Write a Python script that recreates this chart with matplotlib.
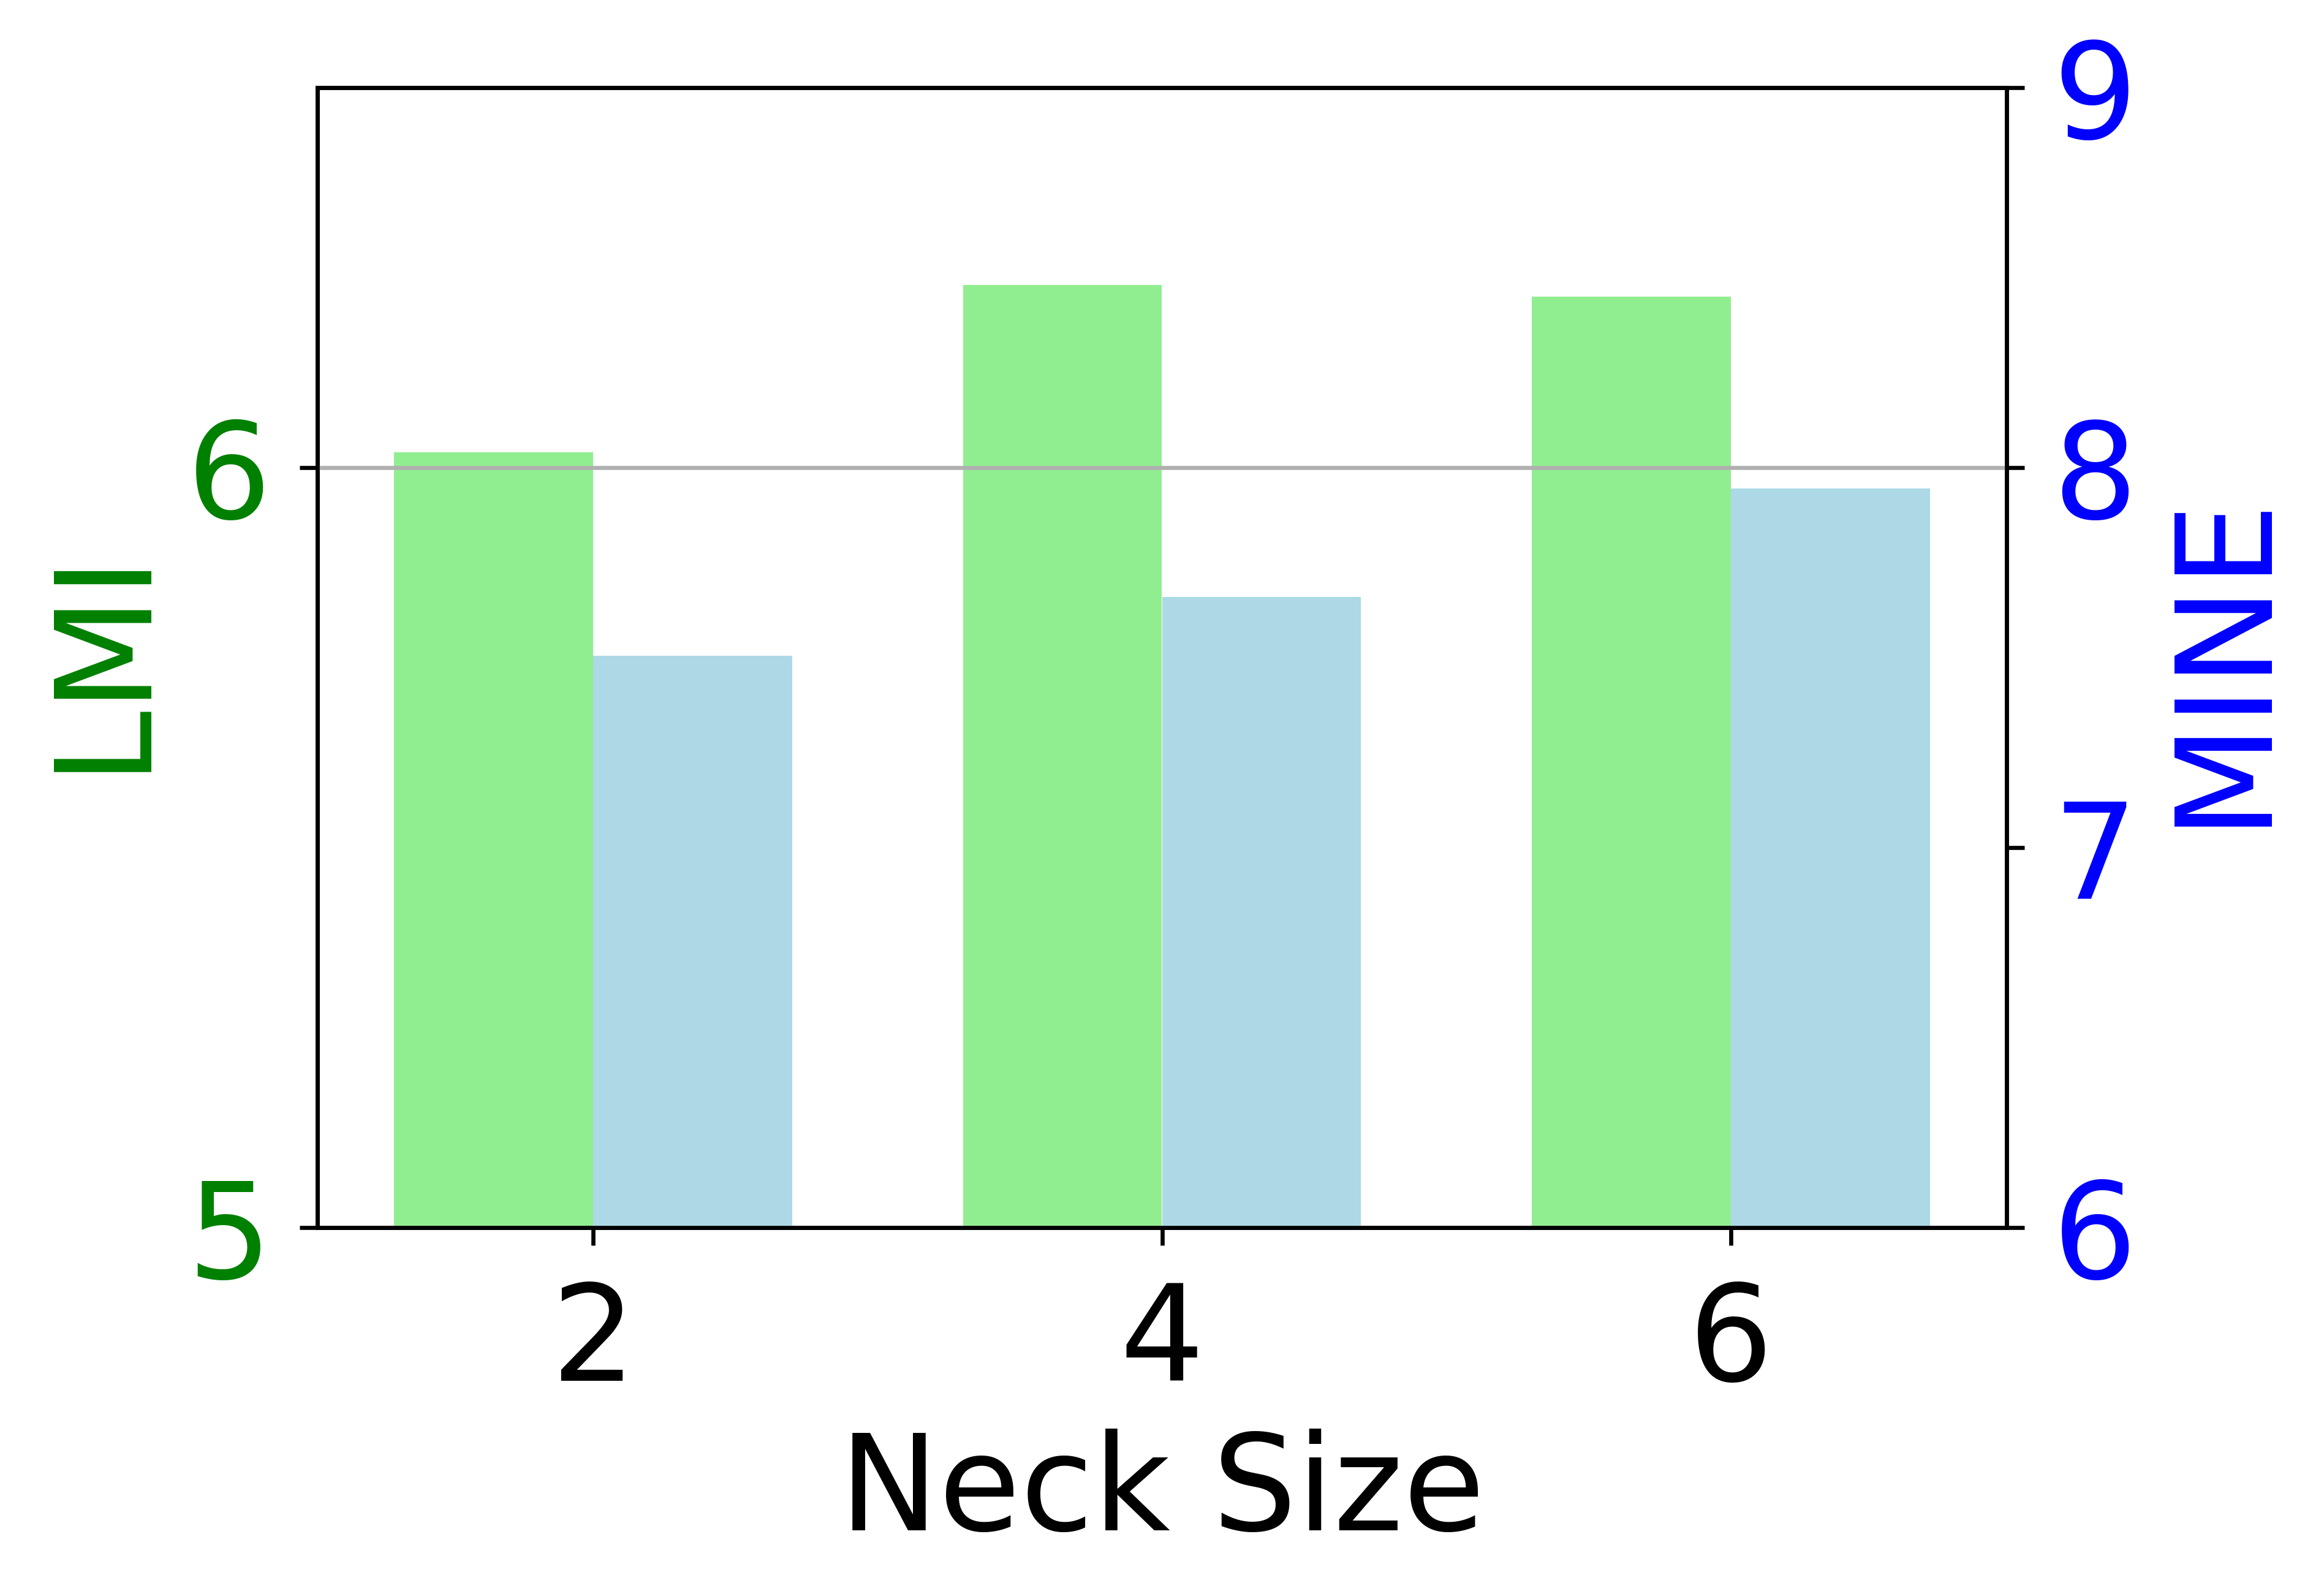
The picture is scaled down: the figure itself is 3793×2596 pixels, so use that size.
import numpy as np
import matplotlib
matplotlib.use("Agg")
import matplotlib.pyplot as plt

neck_size = [2, 4, 6]
lmi = [6.02, 6.24, 6.225]
mine = [7.505, 7.66, 7.945]
lmi_ticks = [5, 6]
mine_ticks = [6, 7, 8, 9]

fs = 26
width = 0.7
x = np.array(neck_size)

fig = plt.figure(figsize=(3793 / 600, 2596 / 600), dpi=600)
ax1 = fig.add_axes([0.1365, 0.2283, 0.727, 0.7167])
ax2 = ax1.twinx()

ax1.bar(x - width / 2, lmi, width, color="lightgreen")
ax2.bar(x + width / 2, mine, width, color="lightblue")

ax1.set_ylim(5, 6.5)
ax2.set_ylim(6, 9)
ax1.set_yticks(lmi_ticks)
ax1.set_yticklabels([str(t) for t in lmi_ticks])
ax2.set_yticks(mine_ticks)
ax2.set_yticklabels([str(t) for t in mine_ticks])
ax1.set_xticks(neck_size)

ax1.grid(True, axis="y")
ax1.set_axisbelow(False)

ax1.set_xlabel("Neck Size", fontsize=fs)
ax1.set_ylabel("LMI", color="green", fontsize=fs)
ax2.set_ylabel("MINE", color="blue", fontsize=fs)

ax1.tick_params(axis="x", labelsize=fs, pad=6.5)
ax1.tick_params(axis="y", labelsize=fs, labelcolor="green", pad=5.5)
ax2.tick_params(axis="y", labelsize=fs, labelcolor="blue", pad=5.5)

plt.savefig("out.png", dpi=600)
